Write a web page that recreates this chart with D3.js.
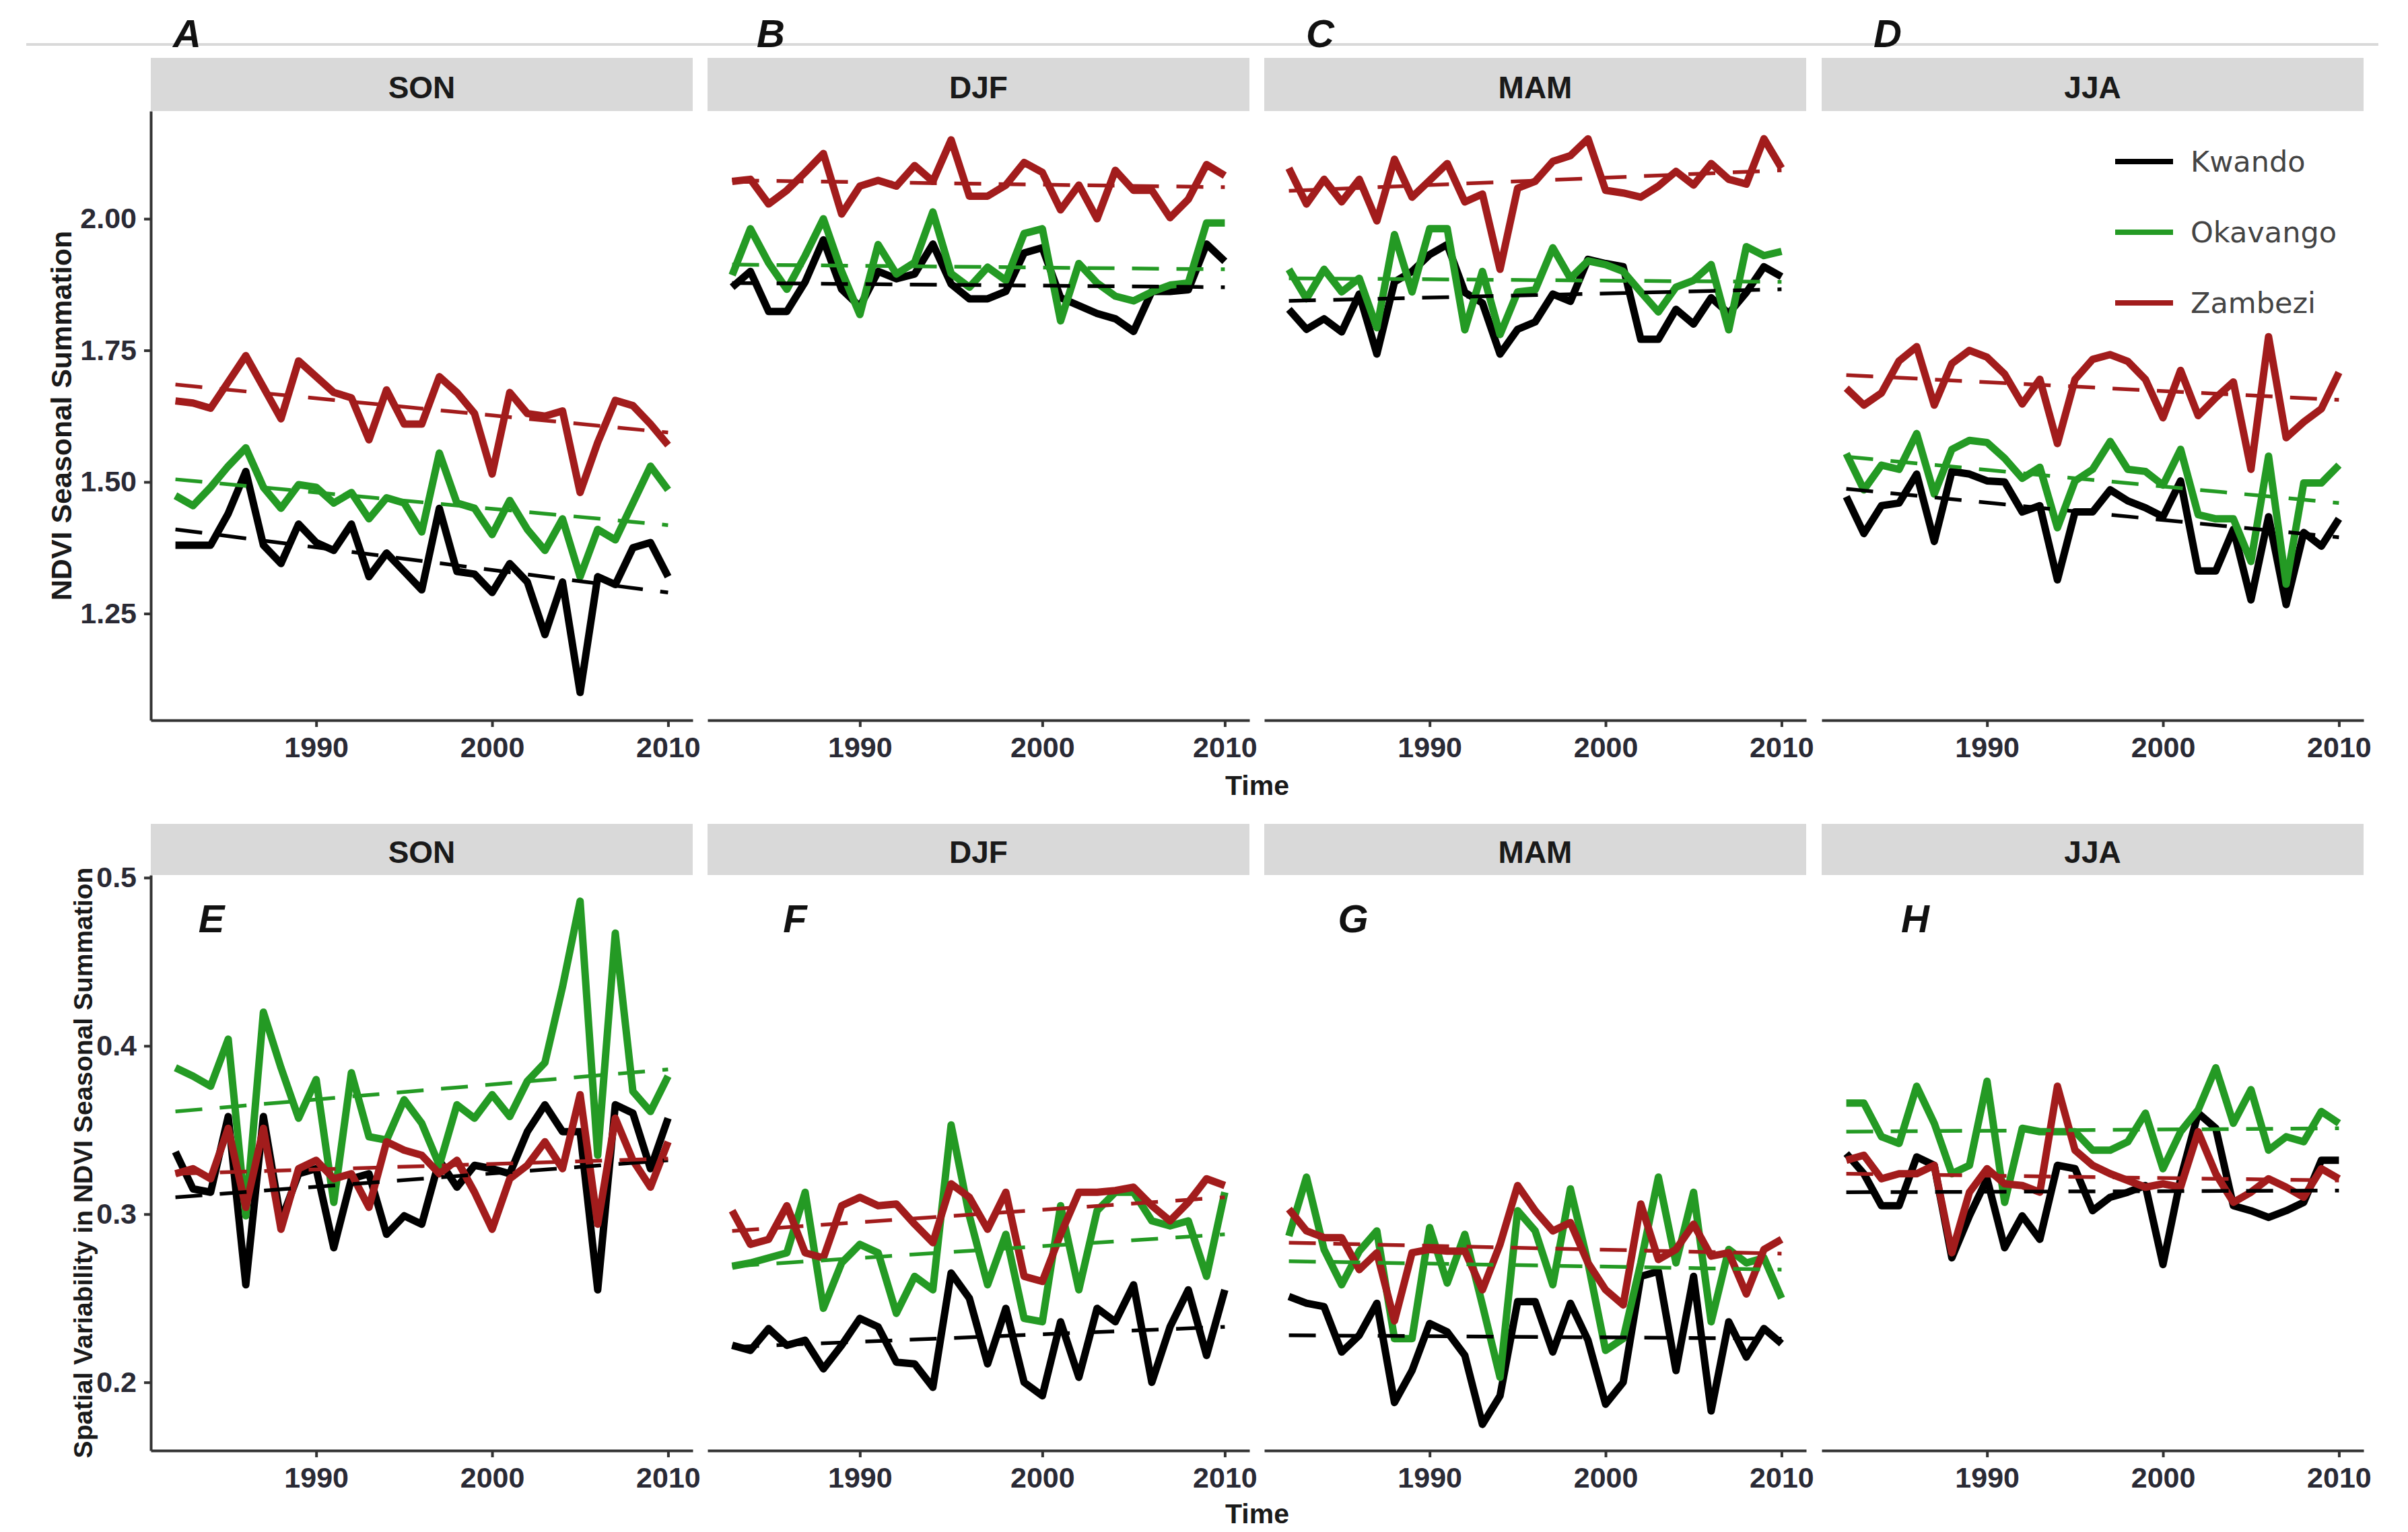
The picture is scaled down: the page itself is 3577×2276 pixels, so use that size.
<!DOCTYPE html>
<html>
<head>
<meta charset="utf-8">
<script src="https://cdn.jsdelivr.net/npm/d3@7"></script>
<style>
body { margin: 0; background: #fff; }
text { font-family: "Liberation Sans", Arial, sans-serif; }
</style>
</head>
<body>
<svg id="chart"></svg>
<script>
var years82 = [1982,1983,1984,1985,1986,1987,1988,1989,1990,1991,1992,1993,1994,1995,1996,1997,1998,1999,2000,2001,2002,2003,2004,2005,2006,2007,2008,2009,2010];
var years83 = [1983,1984,1985,1986,1987,1988,1989,1990,1991,1992,1993,1994,1995,1996,1997,1998,1999,2000,2001,2002,2003,2004,2005,2006,2007,2008,2009,2010];

var seasons = ["SON", "DJF", "MAM", "JJA"];
var rivers = ["Kwando", "Okavango", "Zambezi"];
var riverColors = ["#000000", "#249a24", "#a21c1c"];
var topLetters = ["A", "B", "C", "D"];
var bottomLetters = ["E", "F", "G", "H"];
var ndviTicks = [1.25, 1.50, 1.75, 2.00];
var sdTicks = [0.2, 0.3, 0.4, 0.5];
var timeTicks = [1990, 2000, 2010];

// NDVI seasonal summation (top row)
var sonKwando   = [1.38,1.38,1.38,1.44,1.52,1.38,1.345,1.42,1.385,1.37,1.42,1.32,1.365,1.33,1.295,1.45,1.33,1.325,1.29,1.345,1.31,1.21,1.31,1.10,1.32,1.305,1.375,1.385,1.32];
var sonOkavango = [1.474,1.455,1.49,1.53,1.565,1.49,1.45,1.495,1.49,1.46,1.48,1.43,1.47,1.46,1.405,1.555,1.46,1.45,1.40,1.465,1.41,1.37,1.43,1.32,1.41,1.39,1.46,1.53,1.485];
var sonZambezi  = [1.654,1.65,1.64,1.69,1.74,1.68,1.62,1.73,1.70,1.67,1.66,1.58,1.675,1.61,1.61,1.70,1.67,1.63,1.515,1.67,1.63,1.625,1.635,1.48,1.575,1.655,1.645,1.61,1.57];
var sonTrend = [[1.41, 1.29], [1.505, 1.418], [1.685, 1.594]];

var djfKwando   = [1.87,1.90,1.824,1.824,1.88,1.96,1.866,1.833,1.90,1.886,1.895,1.952,1.876,1.848,1.848,1.862,1.935,1.945,1.85,1.835,1.82,1.81,1.786,1.862,1.862,1.865,1.952,1.919];
var djfOkavango = [1.893,1.981,1.916,1.866,1.93,2.0,1.90,1.818,1.951,1.895,1.917,2.013,1.896,1.87,1.908,1.883,1.972,1.981,1.806,1.915,1.878,1.853,1.844,1.861,1.874,1.878,1.992,1.992];
var djfZambezi  = [2.071,2.075,2.028,2.054,2.088,2.124,2.009,2.062,2.073,2.062,2.101,2.071,2.15,2.043,2.043,2.064,2.107,2.088,2.017,2.064,2.0,2.092,2.054,2.054,2.002,2.037,2.103,2.082];
var djfTrend = [[1.878, 1.87], [1.913, 1.904], [2.073, 2.06]];

var mamKwando   = [1.828,1.79,1.81,1.785,1.857,1.743,1.88,1.90,1.932,1.951,1.86,1.84,1.743,1.79,1.804,1.857,1.843,1.923,1.915,1.909,1.771,1.771,1.828,1.80,1.85,1.82,1.86,1.909,1.89];
var mamOkavango = [1.904,1.848,1.904,1.861,1.887,1.793,1.97,1.861,1.981,1.981,1.789,1.90,1.78,1.861,1.865,1.945,1.887,1.92,1.913,1.90,1.861,1.823,1.87,1.883,1.913,1.789,1.947,1.93,1.938];
var mamZambezi  = [2.096,2.028,2.075,2.032,2.075,1.996,2.113,2.041,2.073,2.105,2.032,2.047,1.904,2.058,2.071,2.109,2.12,2.152,2.054,2.049,2.041,2.062,2.09,2.064,2.105,2.075,2.066,2.152,2.096];
var mamTrend = [[1.844, 1.866], [1.887, 1.88], [2.053, 2.092]];

var jjaKwando   = [1.472,1.402,1.455,1.46,1.515,1.387,1.52,1.515,1.502,1.50,1.443,1.455,1.314,1.443,1.443,1.485,1.464,1.451,1.434,1.502,1.331,1.331,1.41,1.276,1.434,1.267,1.404,1.378,1.43];
var jjaOkavango = [1.554,1.485,1.532,1.524,1.592,1.477,1.562,1.579,1.575,1.545,1.507,1.528,1.413,1.502,1.524,1.577,1.524,1.52,1.494,1.562,1.438,1.43,1.43,1.349,1.549,1.306,1.498,1.498,1.532];
var jjaZambezi  = [1.678,1.646,1.669,1.73,1.757,1.646,1.725,1.75,1.737,1.705,1.648,1.695,1.573,1.695,1.733,1.742,1.729,1.695,1.622,1.712,1.626,1.66,1.69,1.524,1.776,1.584,1.614,1.639,1.708];
var jjaTrend = [[1.487, 1.395], [1.548, 1.46], [1.703, 1.656]];

// spatial variability (bottom row)
var sdSonKwando   = [0.337,0.315,0.313,0.358,0.258,0.358,0.296,0.324,0.327,0.28,0.321,0.324,0.288,0.299,0.294,0.332,0.316,0.329,0.327,0.324,0.349,0.365,0.349,0.349,0.255,0.365,0.36,0.327,0.357];
var sdSonOkavango = [0.387,0.382,0.376,0.404,0.299,0.42,0.387,0.357,0.38,0.307,0.384,0.346,0.344,0.368,0.354,0.329,0.365,0.357,0.371,0.358,0.379,0.39,0.435,0.486,0.335,0.467,0.373,0.361,0.382];
var sdSonZambezi  = [0.324,0.327,0.321,0.351,0.304,0.351,0.291,0.327,0.332,0.321,0.324,0.304,0.343,0.338,0.335,0.324,0.332,0.313,0.291,0.321,0.329,0.343,0.327,0.371,0.294,0.357,0.332,0.316,0.343];
var sdSonTrend = [[0.31, 0.332], [0.361, 0.386], [0.324, 0.333]];

var sdDjfKwando   = [0.222,0.219,0.232,0.222,0.225,0.208,0.222,0.238,0.233,0.212,0.211,0.197,0.265,0.25,0.211,0.244,0.2,0.192,0.236,0.203,0.244,0.236,0.258,0.2,0.233,0.255,0.216,0.255];
var sdDjfOkavango = [0.269,0.271,0.274,0.277,0.313,0.244,0.271,0.282,0.277,0.241,0.263,0.255,0.353,0.299,0.258,0.288,0.238,0.236,0.305,0.255,0.302,0.313,0.313,0.296,0.293,0.296,0.263,0.313];
var sdDjfZambezi  = [0.302,0.282,0.285,0.305,0.277,0.274,0.305,0.31,0.305,0.306,0.294,0.283,0.318,0.31,0.291,0.313,0.263,0.26,0.288,0.313,0.313,0.314,0.316,0.305,0.296,0.307,0.321,0.317];
var sdDjfTrend = [[0.221, 0.233], [0.269, 0.288], [0.29, 0.31]];

var sdMamKwando   = [0.251,0.247,0.245,0.218,0.228,0.247,0.188,0.207,0.235,0.23,0.216,0.175,0.192,0.248,0.248,0.218,0.247,0.225,0.187,0.2,0.263,0.266,0.207,0.263,0.183,0.236,0.215,0.232,0.223];
var sdMamOkavango = [0.287,0.322,0.279,0.258,0.278,0.29,0.226,0.226,0.292,0.259,0.288,0.246,0.203,0.302,0.29,0.258,0.315,0.271,0.219,0.226,0.271,0.322,0.271,0.313,0.236,0.279,0.271,0.274,0.25];
var sdMamZambezi  = [0.303,0.29,0.286,0.286,0.267,0.277,0.2365,0.277,0.279,0.278,0.278,0.255,0.282,0.317,0.302,0.29,0.295,0.271,0.255,0.246,0.306,0.273,0.279,0.294,0.275,0.277,0.2525,0.279,0.285];
var sdMamTrend = [[0.228, 0.226], [0.272, 0.267], [0.283, 0.2765]];

var sdJjaKwando   = [0.336,0.324,0.305,0.305,0.334,0.329,0.274,0.299,0.321,0.28,0.299,0.285,0.329,0.327,0.302,0.31,0.313,0.317,0.27,0.321,0.36,0.351,0.305,0.302,0.298,0.302,0.307,0.332,0.332];
var sdJjaOkavango = [0.366,0.366,0.346,0.342,0.376,0.354,0.324,0.329,0.379,0.307,0.351,0.349,0.349,0.349,0.338,0.338,0.343,0.36,0.327,0.349,0.362,0.387,0.354,0.374,0.338,0.346,0.343,0.361,0.354];
var sdJjaZambezi  = [0.332,0.335,0.321,0.324,0.324,0.329,0.277,0.313,0.327,0.318,0.317,0.313,0.376,0.338,0.329,0.324,0.32,0.316,0.318,0.316,0.349,0.324,0.307,0.313,0.321,0.316,0.31,0.327,0.321];
var sdJjaTrend = [[0.313, 0.314], [0.349, 0.351], [0.324, 0.32]];

var width = 3577,
    height = 2276;

var svg = d3.select("#chart").attr("width", width).attr("height", height);

var panelLeft = [224, 1051, 1878, 2706],
    panelW = 805;

var rows = [
	{
		title: "NDVI Seasonal Summation", titleX: 91, titleSize: 43,
		top: 165, bottom: 1070, stripTop: 86, letterY: 70,
		letterX: [278, 1145, 1961, 2804], letters: topLetters,
		ticks: ndviTicks, fmt: d3.format(".2f"), timeY: 1181,
		panels: [
			{ years: years82, series: [sonKwando, sonOkavango, sonZambezi], trend: sonTrend },
			{ years: years83, series: [djfKwando, djfOkavango, djfZambezi], trend: djfTrend },
			{ years: years82, series: [mamKwando, mamOkavango, mamZambezi], trend: mamTrend },
			{ years: years82, series: [jjaKwando, jjaOkavango, jjaZambezi], trend: jjaTrend }
		]
	},
	{
		title: "Spatial Variability in NDVI Seasonal Summation", titleX: 123, titleSize: 39,
		top: 1300, bottom: 2155, stripTop: 1224, letterY: 1385,
		letterX: [314, 1181, 2010, 2845], letters: bottomLetters,
		ticks: sdTicks, fmt: d3.format(".1f"), timeY: 2263,
		panels: [
			{ years: years82, series: [sdSonKwando, sdSonOkavango, sdSonZambezi], trend: sdSonTrend },
			{ years: years83, series: [sdDjfKwando, sdDjfOkavango, sdDjfZambezi], trend: sdDjfTrend },
			{ years: years82, series: [sdMamKwando, sdMamOkavango, sdMamZambezi], trend: sdMamTrend },
			{ years: years82, series: [sdJjaKwando, sdJjaOkavango, sdJjaZambezi], trend: sdJjaTrend }
		]
	}
];

// thin grey rule across the top
svg.append("line").attr("x1", 39).attr("x2", 3533).attr("y1", 66).attr("y2", 66)
	.attr("stroke", "#d9d9d9").attr("stroke-width", 4);

function padded(ext) {
	var d = (ext[1] - ext[0]) * 0.05;
	return [ext[0] - d, ext[1] + d];
}

rows.forEach(function(row) {
	var all = [];
	row.panels.forEach(function(p) { p.series.forEach(function(s) { all = all.concat(s); }); });
	var y = d3.scaleLinear().domain(padded(d3.extent(all))).range([row.bottom, row.top]);

	row.panels.forEach(function(p, i) {
		var x0 = panelLeft[i];
		var x = d3.scaleLinear().domain(padded(d3.extent(p.years))).range([x0, x0 + panelW]);
		var g = svg.append("g");

		// strip
		g.append("rect").attr("x", x0).attr("y", row.stripTop)
			.attr("width", panelW).attr("height", row.top - row.stripTop).attr("fill", "#d9d9d9");
		g.append("text").text(seasons[i])
			.attr("x", x0 + panelW / 2).attr("y", (row.stripTop + row.top) / 2 + 4)
			.attr("text-anchor", "middle").attr("dy", "0.35em")
			.style("font-size", "46px").style("font-weight", "bold").attr("fill", "#1a1a1a");

		var line = d3.line()
			.x(function(d) { return x(d[0]); })
			.y(function(d) { return y(d[1]); });

		// series
		p.series.forEach(function(vals, k) {
			var pts = p.years.map(function(yr, j) { return [yr, vals[j]]; });
			g.append("path").datum(pts).attr("d", line)
				.attr("fill", "none").attr("stroke", riverColors[k])
				.attr("stroke-width", 11).attr("stroke-linejoin", "round");
		});

		// linear trends
		p.series.forEach(function(vals, k) {
			var ends = [[p.years[0], p.trend[k][0]], [p.years[p.years.length - 1], p.trend[k][1]]];
			g.append("path").datum(ends).attr("d", line)
				.attr("fill", "none").attr("stroke", riverColors[k])
				.attr("stroke-width", 5.5).attr("stroke-dasharray", "40,26");
		});

		// x axis
		var xa = g.append("g").attr("transform", "translate(0," + row.bottom + ")")
			.call(d3.axisBottom(x).tickValues(timeTicks).tickFormat(d3.format("d"))
				.tickSize(10).tickSizeOuter(0).tickPadding(14));
		xa.select(".domain").attr("stroke", "#333").attr("stroke-width", 4);
		xa.selectAll(".tick line").attr("stroke", "#333").attr("stroke-width", 4);
		xa.selectAll(".tick text").style("font-size", "43px").style("font-weight", "bold")
			.style("font-family", "'Liberation Sans', Arial, sans-serif").attr("fill", "#2a2a35");

		// y axis only on the first panel
		if (i == 0) {
			var ya = g.append("g").attr("transform", "translate(" + x0 + ",0)")
				.call(d3.axisLeft(y).tickValues(row.ticks).tickFormat(row.fmt)
					.tickSize(10).tickSizeOuter(0).tickPadding(11));
			ya.select(".domain").attr("stroke", "#333").attr("stroke-width", 4);
			ya.selectAll(".tick line").attr("stroke", "#333").attr("stroke-width", 4);
			ya.selectAll(".tick text").style("font-size", "43px").style("font-weight", "bold")
				.style("font-family", "'Liberation Sans', Arial, sans-serif").attr("fill", "#2a2a35");
		}

		// panel letter
		svg.append("text").text(row.letters[i])
			.attr("x", row.letterX[i]).attr("y", row.letterY).attr("text-anchor", "middle")
			.style("font-size", "58px").style("font-weight", "bold").style("font-style", "italic")
			.attr("fill", "#111");
	});

	// axis titles
	svg.append("text").text(row.title)
		.attr("transform", "translate(" + row.titleX + "," + ((row.top + row.bottom) / 2) + ") rotate(-90)")
		.attr("text-anchor", "middle").attr("dy", "0.35em")
		.style("font-size", row.titleSize + "px").style("font-weight", "bold").attr("fill", "#1a1a1a");

	svg.append("text").text("Time")
		.attr("x", (panelLeft[0] + panelLeft[3] + panelW) / 2).attr("y", row.timeY)
		.attr("text-anchor", "middle")
		.style("font-size", "41px").style("font-weight", "bold").attr("fill", "#1a1a1a");
});

// legend inside the JJA panel
var legendY = [240, 345, 450];
rivers.forEach(function(r, k) {
	svg.append("line").attr("x1", 3142).attr("x2", 3228)
		.attr("y1", legendY[k]).attr("y2", legendY[k])
		.attr("stroke", riverColors[k]).attr("stroke-width", 8);
	svg.append("text").text(r).attr("x", 3254).attr("y", legendY[k]).attr("dy", "0.36em")
		.style("font-family", "'DejaVu Sans', sans-serif").style("font-size", "43px")
		.attr("fill", "#444");
});
</script>
</body>
</html>
